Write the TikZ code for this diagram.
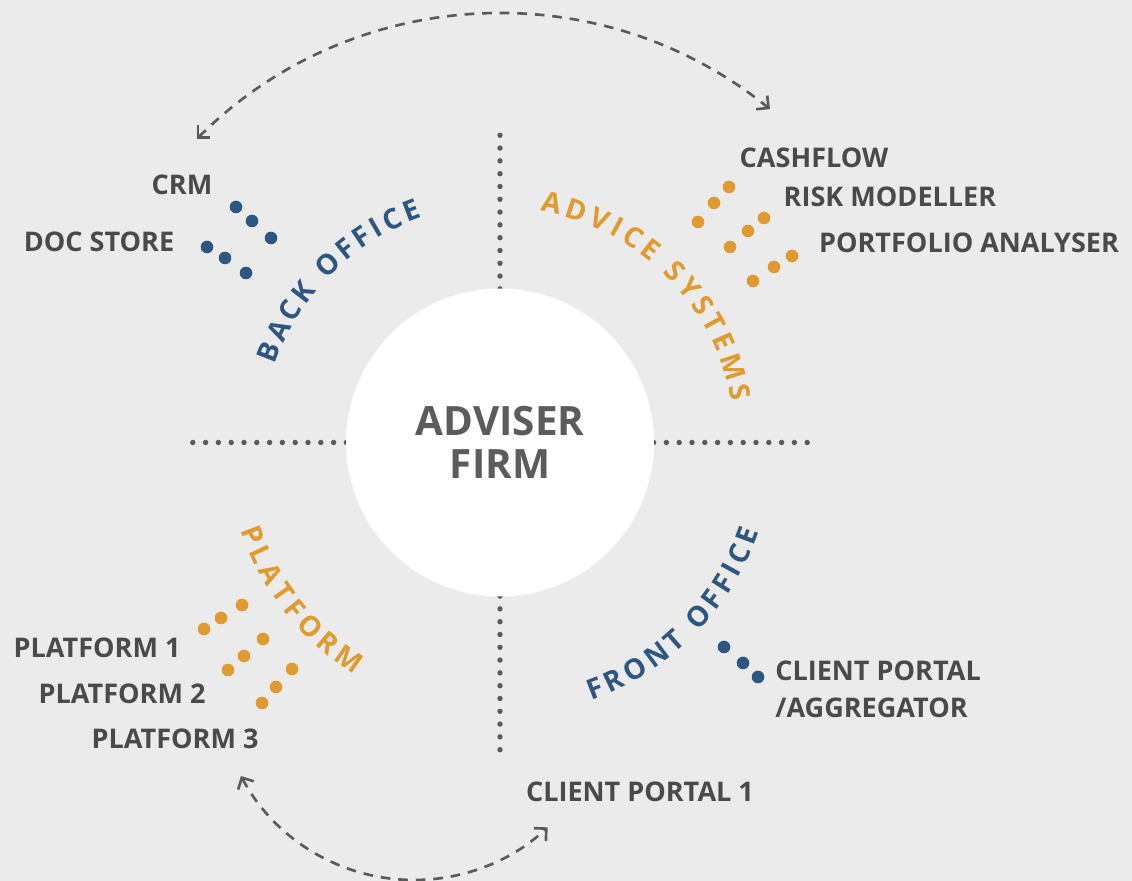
\documentclass[tikz,border=0pt]{standalone}
\usepackage{fontspec}
\setmainfont{Open Sans}
\usepackage{xcolor}
\usepackage{tikz}
\usetikzlibrary{arrows.meta,decorations.text,calc}

\definecolor{bggray}{HTML}{EBEBEB}
\definecolor{labelgray}{HTML}{4A4A4A}
\definecolor{firmgray}{HTML}{5C5C5C}
\definecolor{linegray}{HTML}{5A5A5A}
\definecolor{officeblue}{HTML}{2E5682}
\definecolor{systemorange}{HTML}{E09A30}

\newcommand{\curvefont}{\fontsize{16}{16}\selectfont\bfseries}

\tikzset{
  toolname/.style={font=\fontsize{15.4}{21}\selectfont\bfseries, text=labelgray, inner sep=0pt},
  link/.style={linegray, line width=1.5pt, dash pattern=on 5.5pt off 4.5pt,
    {Straight Barb[length=5pt,width=10pt]}-{Straight Barb[length=5pt,width=10pt]}},
}

\begin{document}
\begin{tikzpicture}[x=0.02cm,y=0.02cm]
        % Background
        \fill[bggray] (0,0) rectangle (1132,881);
        \useasboundingbox (0,0) rectangle (1132,881);
        \coordinate (C) at (500,438.5);

        % Dotted axes
        \foreach \d in {-24,...,24} {
          \fill[linegray] ($(C)+(\d*12.8,0)$) circle[radius=2.7];
          \fill[linegray] ($(C)+(0,\d*12.8)$) circle[radius=2.7];
        }

        % Firm circle
        \node[circle, fill=white, minimum size=6.16cm, align=center, text=firmgray,
          font=\fontsize{23}{24.5}\selectfont\bfseries] (firm) at (C) {ADVISER\\FIRM};

        % Curved titles
        \path[decorate, decoration={text along path, text align=fit to path,
          text={|\curvefont\color{officeblue}|BACK OFFICE}}]
          ($(C)+(161:238)$) arc[start angle=161, end angle=109, radius=238];
        \path[decorate, decoration={text along path, text align=fit to path,
          text={|\curvefont\color{systemorange}|ADVICE SYSTEMS}}]
          ($(C)+(80:235)$) arc[start angle=80, end angle=10, radius=235];
        \path[decorate, decoration={text along path, text align=fit to path,
          text={|\curvefont\color{officeblue}|FRONT OFFICE}}]
          ($(C)+(-70.5:274)$) arc[start angle=-70.5, end angle=-19, radius=274];
        \path[decorate, decoration={text along path, text align=fit to path,
          text={|\curvefont\color{systemorange}|PLATFORM}}]
          ($(C)+(198.8:274)$) arc[start angle=198.8, end angle=238, radius=274];

        % Tools
        \node[toolname] (crm) at (182,696) {CRM};
        \node[toolname] (docstore) at (99,639) {DOC STORE};
        \node[toolname] (cashflow) at (814,723) {CASHFLOW};
        \node[toolname] (risk) at (890,684) {RISK MODELLER};
        \node[toolname] (portfolio) at (969,638) {PORTFOLIO ANALYSER};
        \node[toolname] (platform1) at (97,233) {PLATFORM 1};
        \node[toolname] (platform2) at (122,187) {PLATFORM 2};
        \node[toolname] (platform3) at (175,142) {PLATFORM 3};
        \node[toolname, anchor=west, align=left] (aggregator) at (775,191.5) {CLIENT PORTAL\\/AGGREGATOR};
        \node[toolname] (portal1) at (640,89) {CLIENT PORTAL 1};

        % Dots
        \foreach \p in {(236,674),(252,660),(271,643),(207,634),(225,623),(246,608),
                        (724,234),(743,218),(758,204)}
          \fill[officeblue] \p circle[radius=6.3];
        \foreach \p in {(729,694),(714,678),(698,659),(764,663),(748,650),(730,634),
                        (792,625),(774,614),(753,600),
                        (242,276),(221,263),(204,252),(263,242),(244,225),(228,211),
                        (292,212),(276,194),(262,178)}
          \fill[systemorange] \p circle[radius=6.3];

        % Arrows
        \coordinate (backArrow) at ($(C)+(135:429)$);
        \draw[link] (backArrow) arc[start angle=135, end angle=51, radius=429];
        \coordinate (B) at (414,197);
        \coordinate (platformArrow) at ($(B)+(208:196)$);
        \draw[link] (platformArrow) arc[start angle=208, end angle=313, radius=196];
\end{tikzpicture}
\end{document}
